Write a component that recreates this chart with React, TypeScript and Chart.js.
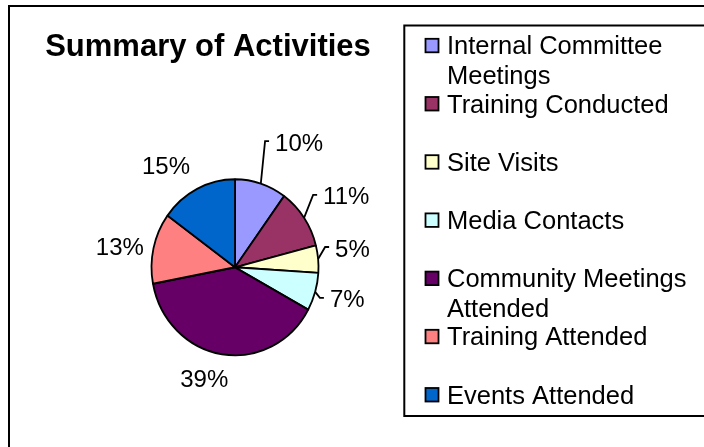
import React, { useEffect, useRef } from "react";
import { Chart, registerables } from "chart.js";

Chart.register(...registerables);

const chartTitle = "Summary of Activities";
const categories = [
  "Internal Committee Meetings",
  "Training Conducted",
  "Site Visits",
  "Media Contacts",
  "Community Meetings Attended",
  "Training Attended",
  "Events Attended",
];
const percentages = [10, 11, 5, 7, 39, 13, 15];
const sliceColors = ["#9999FF", "#993366", "#FFFFCC", "#CCFFFF", "#660066", "#FF8080", "#0066CC"];

const FONT = '"Liberation Sans", Arial, sans-serif';
const Y_STRETCH = 88 / 83.5;
// label nudges (layout tweaks from the default outside position)
const LABEL_NUDGE = [
  [27, -11],
  [12, -4],
  [-2, -8],
  [-3, -2],
  [-12, -7],
  [2, 5],
  [-14.5, 5],
];
const LEADER_COUNT = 4;

const framePlugin = {
  id: "frame",
  beforeDraw(chart: any) {
    const ctx = chart.ctx;
    ctx.save();
    ctx.fillStyle = "#fff";
    ctx.fillRect(0, 0, chart.width, chart.height);
    ctx.strokeStyle = "#000";
    ctx.lineWidth = 2;
    ctx.strokeRect(9, 6, chart.width + 20, chart.height + 20);
    // title
    ctx.fillStyle = "#000";
    ctx.font = `bold 31px ${FONT}`;
    ctx.textAlign = "center";
    ctx.textBaseline = "alphabetic";
    ctx.fillText(chartTitle, 208, 55.7);
    ctx.restore();
  },
};

const ellipsePlugin = {
  id: "ellipse",
  beforeDatasetsDraw(chart: any) {
    const arc = chart.getDatasetMeta(0).data[0];
    const ctx = chart.ctx;
    ctx.save();
    ctx.translate(arc.x, arc.y);
    ctx.scale(1, Y_STRETCH);
    ctx.translate(-arc.x, -arc.y);
  },
  afterDatasetsDraw(chart: any) {
    chart.ctx.restore();
  },
};

const labelPlugin = {
  id: "sliceLabels",
  afterDatasetsDraw(chart: any) {
    const ctx = chart.ctx;
    const meta = chart.getDatasetMeta(0);
    const values = chart.data.datasets[0].data as number[];
    ctx.save();
    ctx.font = `24px ${FONT}`;
    ctx.fillStyle = "#000";
    ctx.strokeStyle = "#000";
    ctx.lineWidth = 1.8;
    ctx.textAlign = "center";
    ctx.textBaseline = "alphabetic";
    meta.data.forEach((arc: any, i: number) => {
      const { x, y, startAngle, endAngle, outerRadius } = arc.getProps(
        ["x", "y", "startAngle", "endAngle", "outerRadius"],
        true
      );
      const mid = (startAngle + endAngle) / 2;
      const ex = x + Math.cos(mid) * outerRadius;
      const ey = y + Math.sin(mid) * outerRadius * Y_STRETCH;
      const D = outerRadius + 36.5;
      const lx = x + Math.cos(mid) * D + LABEL_NUDGE[i][0];
      const ly = y + Math.sin(mid) * D + LABEL_NUDGE[i][1];
      const text = `${values[i]}%`;
      const w = ctx.measureText(text).width;
      ctx.fillText(text, lx, ly + 0.358 * 24);
      if (i < LEADER_COUNT) {
        const bx = lx - w / 2 - 10;
        const by = ly - 1;
        ctx.beginPath();
        ctx.moveTo(ex, ey);
        ctx.lineTo(bx, by);
        ctx.lineTo(bx + 4, by);
        ctx.stroke();
      }
    });
    ctx.restore();
  },
};

const legendPlugin = {
  id: "boxLegend",
  afterDraw(chart: any) {
    const ctx = chart.ctx;
    const labels = chart.data.labels as string[];
    const colors = chart.data.datasets[0].backgroundColor as string[];
    ctx.save();
    ctx.strokeStyle = "#000";
    ctx.lineWidth = 2;
    ctx.strokeRect(404.3, 25.5, 400, 390.5);
    ctx.font = `25.5px ${FONT}`;
    ctx.textAlign = "left";
    ctx.textBaseline = "alphabetic";
    const maxW = 250;
    labels.forEach((lab, i) => {
      const cy = 45.8 + i * 58.2;
      ctx.fillStyle = colors[i];
      ctx.fillRect(425.5, cy - 7, 13, 13.5);
      ctx.lineWidth = 1.8;
      ctx.strokeStyle = "#000";
      ctx.strokeRect(425.5, cy - 7, 13, 13.5);
      // wrap text
      const words = lab.split(" ");
      const lines: string[] = [];
      let cur = "";
      words.forEach((wd) => {
        const t = cur ? cur + " " + wd : wd;
        if (ctx.measureText(t).width > maxW && cur) {
          lines.push(cur);
          cur = wd;
        } else cur = t;
      });
      if (cur) lines.push(cur);
      ctx.fillStyle = "#000";
      lines.forEach((ln, j) => {
        ctx.fillText(ln, 447, cy + 8.5 + j * 29.7);
      });
    });
    ctx.restore();
  },
};

export default function App() {
  const ref = useRef<HTMLCanvasElement | null>(null);
  useEffect(() => {
    if (!ref.current) return;
    const chart = new Chart(ref.current, {
      type: "pie",
      data: {
        labels: categories,
        datasets: [
          {
            data: percentages,
            backgroundColor: sliceColors,
            borderColor: "#000",
            borderWidth: 1.8,
            radius: 83.5,
          } as any,
        ],
      },
      options: {
        responsive: false,
        animation: false,
        events: [],
        layout: { padding: { left: 150, right: 384, top: 178, bottom: 90.4 } },
        plugins: {
          legend: { display: false },
          tooltip: { enabled: false },
          title: { display: false },
        },
      },
      plugins: [framePlugin, ellipsePlugin, labelPlugin, legendPlugin],
    });
    return () => chart.destroy();
  }, []);
  return (
    <div style={{ position: "fixed", left: 0, top: 0, width: 704, height: 447, overflow: "hidden" }}>
      <canvas ref={ref} width={704} height={447} style={{ display: "block" }} />
    </div>
  );
}
